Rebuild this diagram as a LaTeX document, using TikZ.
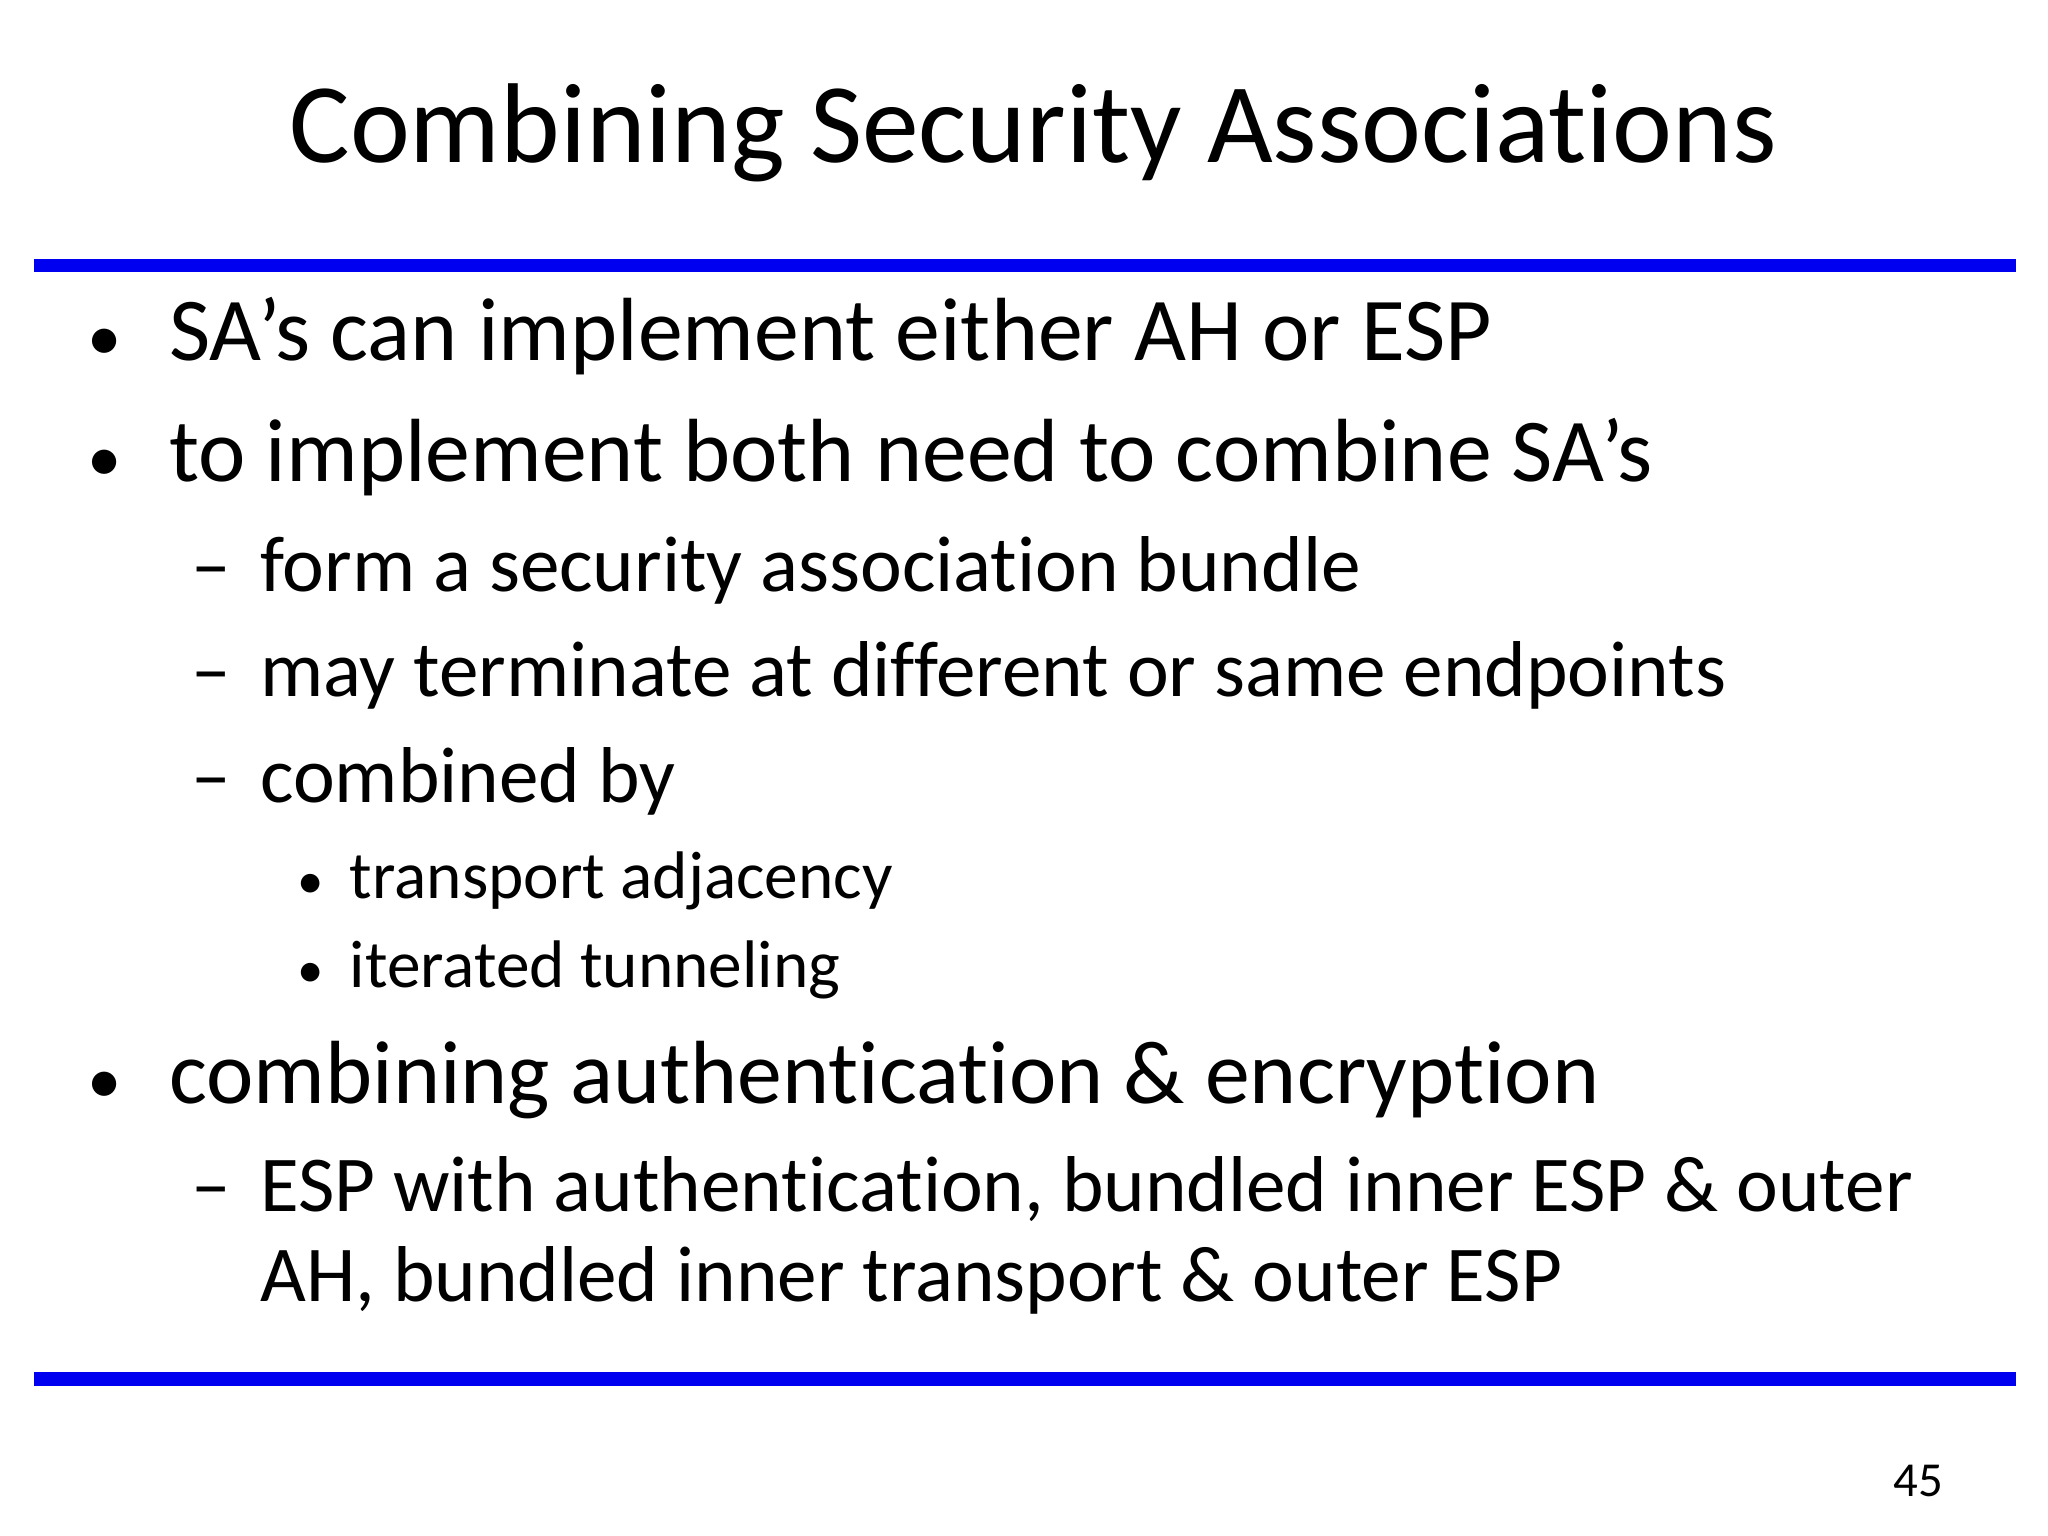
\documentclass[tikz,border=0pt]{standalone}
\usepackage{fontspec}
\setmainfont{Carlito}[Ligatures=NoCommon]
\definecolor{rule}{RGB}{0,0,240}
\begin{document}
\begin{tikzpicture}[x=1pt,y=-1pt,
  t/.style={anchor=base west,inner sep=0pt},
  l1/.style={t,font=\fontsize{68}{72}\selectfont},
  l2/.style={t,font=\fontsize{60}{64}\selectfont},
  l3/.style={t,font=\fontsize{51}{55}\selectfont},
  bl/.style={t,font=\fontsize{52}{55}\selectfont},
  bs/.style={t,font=\fontsize{40}{44}\selectfont}]
\useasboundingbox (0,0) rectangle (1552,1164);
\node[anchor=base,inner sep=0pt,font=\fontsize{86}{90}\selectfont] (title) at (783,123) {Combining Security Associations};
\draw[rule,line width=10pt] (26,201) -- (1528,201);
\draw[rule,line width=10pt] (26,1045) -- (1528,1045);
\node[bl] (b1) at (66,273) {•};
\node[l1] (a1) at (128,273) {SA’s can implement either AH or ESP};
\node[bl] (b2) at (66,365) {•};
\node[l1] (a2) at (128,365) {to implement both need to combine SA’s};
\node[l2] (d1) at (145,448) {–};
\node[l2] (c1) at (197,448) {form a security association bundle};
\node[l2] (d2) at (145,528) {–};
\node[l2] (c2) at (197,528) {may terminate at different or same endpoints};
\node[l2] (d3) at (145,608) {–};
\node[l2] (c3) at (197,608) {combined by};
\node[bs] (e1) at (225,681) {•};
\node[l3] (f1) at (265,681) {transport adjacency};
\node[bs] (e2) at (225,748) {•};
\node[l3] (f2) at (265,748) {iterated tunneling};
\node[bl] (b3) at (66,836) {•};
\node[l1] (a3) at (128,836) {combining authentication \& encryption};
\node[l2] (d4) at (145,918) {–};
\node[l2] (c4) at (197,918) {ESP with authentication, bundled inner ESP \& outer};
\node[l2] (c5) at (197,986) {AH, bundled inner transport \& outer ESP};
\node[anchor=base,inner sep=0pt,font=\fontsize{37}{40}\selectfont] (pg) at (1454,1134) {45};
\end{tikzpicture}
\end{document}
